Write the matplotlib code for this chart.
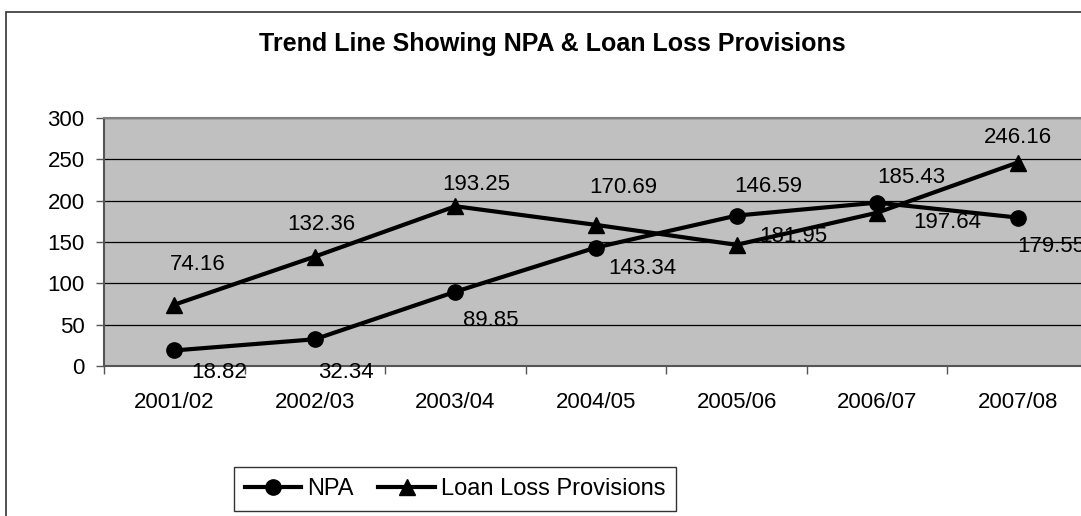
import matplotlib.pyplot as plt
from matplotlib.patches import Rectangle

# Data
years = ['2001/02', '2002/03', '2003/04', '2004/05', '2005/06', '2006/07', '2007/08']
npa = [18.82, 32.34, 89.85, 143.34, 181.95, 197.64, 179.55]
loan_loss = [74.16, 132.36, 193.25, 170.69, 146.59, 185.43, 246.16]

# label offsets in pixels (dx, dy), as placed in the original chart
npa_offsets = [(45, -22), (31, -33), (35, -29), (46, -21), (57, -21), (70, -20), (34, -29)]
llp_offsets = [(23, 40), (6, 32), (21, 22), (27, 37), (32, 58), (34, 35), (0, 25)]

plt.rcParams['font.family'] = ['Liberation Sans', 'DejaVu Sans']

W, H = 1081, 516
fig = plt.figure(figsize=(W / 100, H / 100), dpi=100)
fig.patch.set_facecolor('white')

# outer chart border (runs past the right/bottom edge like the original crop)
fig.patches.append(Rectangle((6 / W, -0.1), 1.2, 1 - 12 / H + 0.1, transform=fig.transFigure,
                             fill=False, edgecolor='#333333', linewidth=1.2))

ax = fig.add_axes([104 / W, 1 - 366 / H, 984 / W, 248 / H])
ax.set_facecolor('#c0c0c0')

x = list(range(len(years)))
ax.plot(x, npa, color='black', linewidth=3, marker='o', markersize=11, label='NPA', zorder=3)
ax.plot(x, loan_loss, color='black', linewidth=3, marker='^', markersize=11,
        label='Loan Loss Provisions', zorder=3)

for xi, v, (dx, dy) in zip(x, npa, npa_offsets):
    ax.annotate(f'{v:.2f}', (xi, v), xytext=(dx * 0.72, dy * 0.72), textcoords='offset points',
                ha='center', va='center', fontsize=16, annotation_clip=False, zorder=4)
for xi, v, (dx, dy) in zip(x, loan_loss, llp_offsets):
    ax.annotate(f'{v:.2f}', (xi, v), xytext=(dx * 0.72, dy * 0.72), textcoords='offset points',
                ha='center', va='center', fontsize=16, annotation_clip=False, zorder=4)

ax.set_xlim(-0.5, len(years) - 0.5)
ax.set_ylim(0, 300)
ax.set_yticks(range(0, 301, 50))
ax.yaxis.grid(True, color='black', linewidth=0.9)
ax.set_axisbelow(True)

ax.set_xticks(x)
ax.set_xticklabels(years, fontsize=16)
ax.set_xticks([i - 0.5 for i in range(len(years) + 1)], minor=True)
ax.tick_params(axis='x', which='major', length=0, pad=19)
ax.tick_params(axis='x', which='minor', length=6, width=1, color='#555555')
ax.tick_params(axis='y', length=6, width=1, color='#555555', labelsize=16, pad=8)

for side in ['top', 'right']:
    ax.spines[side].set_color('#808080')
    ax.spines[side].set_linewidth(1.5)
ax.spines['left'].set_color('#555555')
ax.spines['bottom'].set_color('#555555')
ax.spines['left'].set_linewidth(1.5)
ax.spines['bottom'].set_linewidth(1.5)

fig.text(552 / W, 1 - 44 / H, 'Trend Line Showing NPA & Loan Loss Provisions',
         ha='center', va='center', fontsize=18, fontweight='bold')

leg = fig.legend(loc='center', bbox_to_anchor=(455 / W, 1 - 489 / H), ncol=2, fontsize=17,
                 frameon=True, fancybox=False, edgecolor='black', handlelength=2.4,
                 columnspacing=1.05, handletextpad=0.25, borderpad=0.45)
leg.get_frame().set_linewidth(1.0)

fig.savefig('out.png', dpi=100)
